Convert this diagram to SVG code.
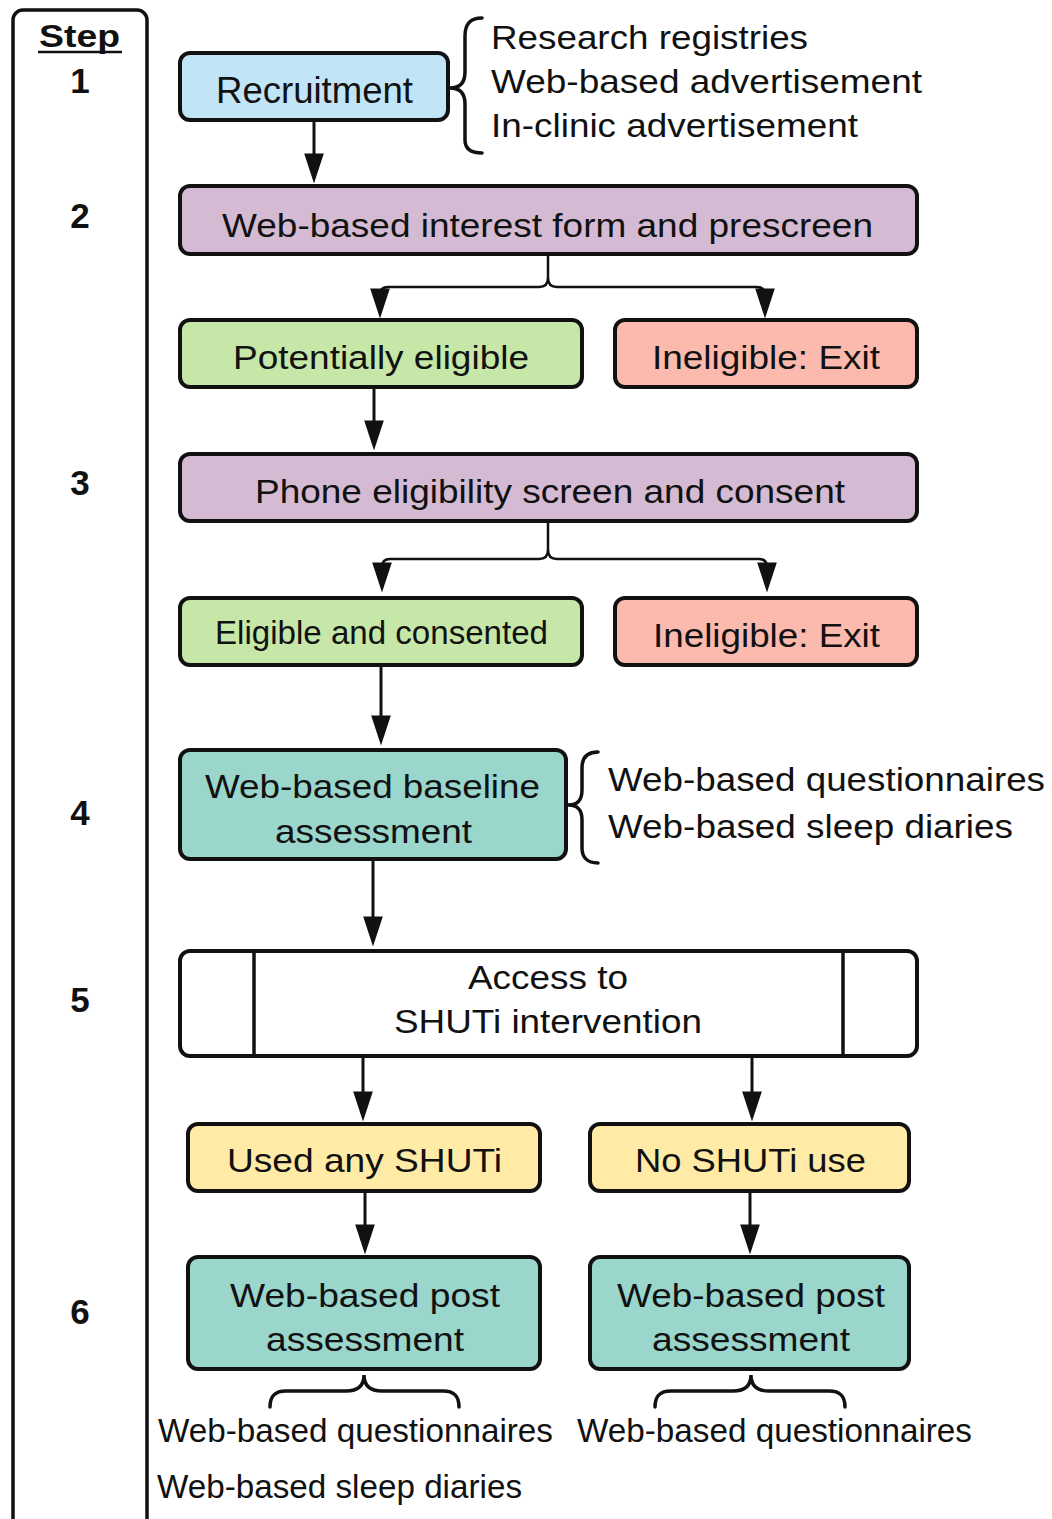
<svg xmlns="http://www.w3.org/2000/svg" width="1052" height="1519" viewBox="0 0 1052 1519">
<defs>
<style>
text{font-family:"Liberation Sans",Arial,sans-serif;fill:#111;}
.t{font-size:34px;}
.s{font-size:33px;}
.d{font-size:35px;font-weight:bold;text-anchor:middle;}
.box{stroke:#111;stroke-width:4;}
.blue{fill:#c1e4f7;}
.purple{fill:#d4bbd3;}
.green{fill:#c6e7a8;}
.red{fill:#fcb9ae;}
.teal{fill:#9ad6cb;}
.yellow{fill:#ffeba6;}
.white{fill:#ffffff;}
.c{fill:none;stroke:#111;stroke-width:3;marker-end:url(#ah);}
.sp{fill:none;stroke:#111;stroke-width:2.5;marker-end:url(#ah);}
.br{fill:none;stroke:#111;stroke-width:3.5;stroke-linecap:round;}
</style>
<marker id="ah" markerUnits="userSpaceOnUse" markerWidth="30" markerHeight="20" viewBox="0 0 29 19" refX="15" refY="9.5" orient="auto">
<path d="M0,0 L29,9.5 L0,19 z" fill="#111"/>
</marker>
</defs>
<rect width="1052" height="1519" fill="#ffffff"/>

<g id="step-column">
<rect x="13" y="10" width="134" height="1560" rx="10" fill="none" stroke="#111" stroke-width="3.5"/>
<text x="39" y="47" font-size="32" font-weight="bold" textLength="81" lengthAdjust="spacingAndGlyphs">Step</text>
<line x1="38" y1="52" x2="122" y2="52" stroke="#111" stroke-width="2.5"/>
<text class="d" x="80" y="93">1</text>
<text class="d" x="80" y="228">2</text>
<text class="d" x="80" y="495">3</text>
<text class="d" x="80" y="825">4</text>
<text class="d" x="80" y="1012">5</text>
<text class="d" x="80" y="1324">6</text>
</g>

<g id="connectors">
<path class="c" d="M314,120 L314,169"/>
<path class="sp" d="M548,255 L548,278 Q548,287 539,287 L388,287 Q380,287 380,295 L380,304"/>
<path class="sp" d="M548,278 Q548,287 557,287 L757,287 Q765,287 765,295 L765,304"/>
<path class="c" d="M374,388 L374,436"/>
<path class="sp" d="M548,522 L548,550 Q548,559 539,559 L390,559 Q382,559 382,567 L382,578"/>
<path class="sp" d="M548,550 Q548,559 557,559 L759,559 Q767,559 767,567 L767,578"/>
<path class="c" d="M381,665 L381,731"/>
<path class="c" d="M373,860 L373,932"/>
<path class="c" d="M363,1057 L363,1107"/>
<path class="c" d="M752,1057 L752,1107"/>
<path class="c" d="M365,1191 L365,1240"/>
<path class="c" d="M750,1191 L750,1240"/>
</g>

<g id="recruitment">
<rect class="box blue" x="180" y="53" width="268" height="67" rx="10"/>
<text x="216" y="103" textLength="197" lengthAdjust="spacingAndGlyphs" style="font-size:36px">Recruitment</text>
</g>

<g id="recruitment-sources">
<path class="br" d="M482,18 C470,18 465,24 465,36 L465,72 C465,83 460,88 450,88 C460,88 465,93 465,104 L465,140 C465,148 470,153 482,153"/>
<text class="t" x="491" y="49" textLength="317" lengthAdjust="spacingAndGlyphs">Research registries</text>
<text class="t" x="491" y="93" textLength="431" lengthAdjust="spacingAndGlyphs">Web-based advertisement</text>
<text class="t" x="491" y="137" textLength="367" lengthAdjust="spacingAndGlyphs">In-clinic advertisement</text>
</g>

<g id="interest-form">
<rect class="box purple" x="180" y="186" width="737" height="68" rx="10"/>
<text class="t" x="222" y="237" textLength="651" lengthAdjust="spacingAndGlyphs">Web-based interest form and prescreen</text>
</g>

<g id="potentially-eligible">
<rect class="box green" x="180" y="320" width="402" height="67" rx="10"/>
<text class="t" x="233" y="369" textLength="296" lengthAdjust="spacingAndGlyphs">Potentially eligible</text>
</g>

<g id="ineligible-1">
<rect class="box red" x="615" y="320" width="302" height="67" rx="10"/>
<text class="t" x="652" y="369" textLength="228" lengthAdjust="spacingAndGlyphs">Ineligible: Exit</text>
</g>

<g id="phone-screen">
<rect class="box purple" x="180" y="454" width="737" height="67" rx="10"/>
<text class="t" x="255" y="503" textLength="590" lengthAdjust="spacingAndGlyphs">Phone eligibility screen and consent</text>
</g>

<g id="eligible-consented">
<rect class="box green" x="180" y="598" width="402" height="67" rx="10"/>
<text x="215" y="644" textLength="333" lengthAdjust="spacingAndGlyphs" style="font-size:33px">Eligible and consented</text>
</g>

<g id="ineligible-2">
<rect class="box red" x="615" y="598" width="302" height="67" rx="10"/>
<text class="t" x="653" y="647" textLength="227" lengthAdjust="spacingAndGlyphs">Ineligible: Exit</text>
</g>

<g id="baseline-assessment">
<rect class="box teal" x="180" y="750" width="386" height="109" rx="10"/>
<text class="t" x="205" y="798" textLength="335" lengthAdjust="spacingAndGlyphs">Web-based baseline</text>
<text class="t" x="275" y="843" textLength="197" lengthAdjust="spacingAndGlyphs">assessment</text>
</g>

<g id="baseline-measures">
<path class="br" d="M598,752 C587,752 582,758 582,768 L582,790 C582,800 578,805 568,805 C578,805 582,810 582,820 L582,848 C582,857 587,863 598,863"/>
<text class="t" x="608" y="791" textLength="437" lengthAdjust="spacingAndGlyphs">Web-based questionnaires</text>
<text class="t" x="608" y="838" textLength="405" lengthAdjust="spacingAndGlyphs">Web-based sleep diaries</text>
</g>

<g id="shuti-access">
<rect class="box white" x="180" y="951" width="737" height="105" rx="10"/>
<line x1="254" y1="951" x2="254" y2="1056" stroke="#111" stroke-width="3.5"/>
<line x1="843" y1="951" x2="843" y2="1056" stroke="#111" stroke-width="3.5"/>
<text class="t" x="468" y="989" textLength="160" lengthAdjust="spacingAndGlyphs">Access to</text>
<text class="t" x="394" y="1033" textLength="308" lengthAdjust="spacingAndGlyphs">SHUTi intervention</text>
</g>

<g id="used-shuti">
<rect class="box yellow" x="188" y="1124" width="352" height="67" rx="10"/>
<text class="t" x="227" y="1172" textLength="275" lengthAdjust="spacingAndGlyphs">Used any SHUTi</text>
</g>

<g id="no-shuti">
<rect class="box yellow" x="590" y="1124" width="319" height="67" rx="10"/>
<text class="t" x="635" y="1172" textLength="231" lengthAdjust="spacingAndGlyphs">No SHUTi use</text>
</g>

<g id="post-assessment-1">
<rect class="box teal" x="188" y="1257" width="352" height="112" rx="10"/>
<text class="t" x="230" y="1307" textLength="270" lengthAdjust="spacingAndGlyphs">Web-based post</text>
<text class="t" x="266" y="1351" textLength="198" lengthAdjust="spacingAndGlyphs">assessment</text>
</g>

<g id="post-assessment-2">
<rect class="box teal" x="590" y="1257" width="319" height="112" rx="10"/>
<text class="t" x="617" y="1307" textLength="268" lengthAdjust="spacingAndGlyphs">Web-based post</text>
<text class="t" x="652" y="1351" textLength="198" lengthAdjust="spacingAndGlyphs">assessment</text>
</g>

<g id="post-measures-1">
<path class="br" d="M270,1407 C270,1396 275,1391 286,1391 L346,1391 C358,1391 364,1386 364,1375 C364,1386 370,1391 382,1391 L443,1391 C454,1391 459,1396 459,1407"/>
<text class="s" x="158" y="1442" textLength="395" lengthAdjust="spacingAndGlyphs">Web-based questionnaires</text>
<text class="s" x="157" y="1498" textLength="365" lengthAdjust="spacingAndGlyphs">Web-based sleep diaries</text>
</g>

<g id="post-measures-2">
<path class="br" d="M655,1407 C655,1396 660,1391 671,1391 L733,1391 C745,1391 751,1386 751,1375 C751,1386 757,1391 769,1391 L829,1391 C840,1391 845,1396 845,1407"/>
<text class="s" x="577" y="1442" textLength="395" lengthAdjust="spacingAndGlyphs">Web-based questionnaires</text>
</g>
</svg>
